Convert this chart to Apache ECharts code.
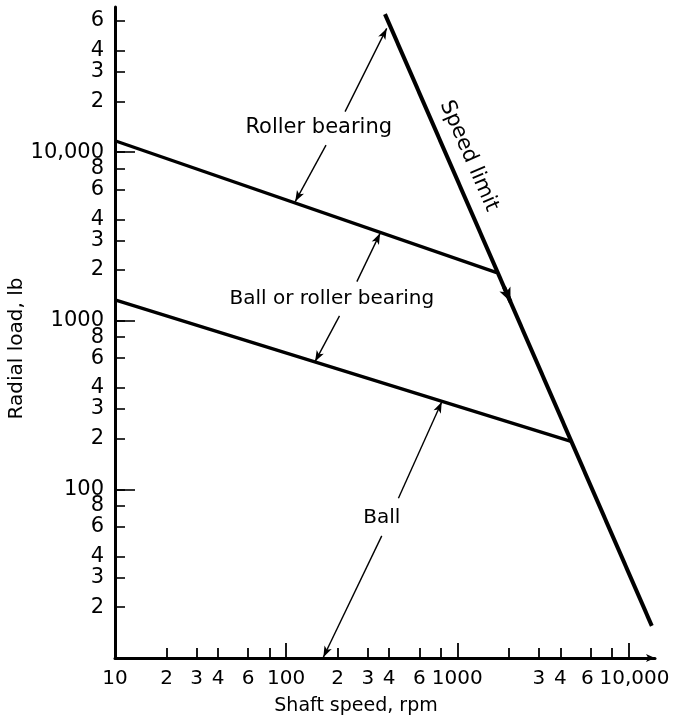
<!DOCTYPE html>
<html><head><meta charset="utf-8">
<script src="https://cdn.jsdelivr.net/npm/echarts@6/dist/echarts.min.js"></script>
<style>html,body{margin:0;padding:0;background:#fff}#c{width:683px;height:720px}</style>
</head><body><div id="c"></div>
<script>
// ---- axes (values in rpm / lb, log scale) ----
const xRange = [10, 14300];
const yRange = [10, 72600];
const xMajorTicks = [10, 100, 1000, 10000];
const xMinorTicks = [20, 30, 40, 60, 80, 200, 300, 400, 600, 800, 2000, 3000, 4000, 6000, 8000];
const xMinorLabelValues = [20, 30, 40, 60, 200, 300, 400, 600, 3000, 4000, 6000];
const yMajorTicks = [10, 100, 1000, 10000];
const yMinorTicks = [20, 30, 40, 60, 80, 200, 300, 400, 600, 800, 2000, 3000, 4000, 6000, 8000, 20000, 30000, 40000, 60000];
const yLabelValues = [20, 30, 40, 60, 80, 100, 200, 300, 400, 600, 800, 1000, 2000, 3000, 4000, 6000, 8000, 10000, 20000, 30000, 40000, 60000];
const xName = 'Shaft speed, rpm';
const yName = 'Radial load, lb';

// ---- boundary lines ----
const rollerRpm = [10, 1700];
const rollerLoad = [11700, 1930];
const ballRpm = [10, 4670];
const ballLoad = [1330, 192];
const speedRpm = [378, 13700];
const speedLoad = [65900, 15.5];

// ---- annotation arrows: [fromRpm, fromLoad, toRpm, toLoad] (head at "to") ----
const arrowSegments = [
  [221, 17400, 387, 54200],
  [171, 11000, 113, 5090],
  [259, 1706, 354, 3300],
  [205, 1069, 147.6, 573],
  [453, 88.7, 811, 330],
  [362, 53, 165, 10.1]
];
const speedArrow = [1875, 1589, 2047, 1295];

// ---- annotation texts ----
const noteTexts = ['Roller bearing', 'Ball or roller bearing', 'Ball', 'Speed limit'];
const noteRpm = [155, 185, 362, 1170];
const noteLoad = [13960, 1349, 67.9, 9500];
const noteRotate = [0, 0, 0, -66.5];
const noteSize = [21, 20, 20, 21];

const L = Math.log10;
const FONT = 'DejaVu Sans';
const pair = (xs, ys) => xs.map((x, i) => [L(x), L(ys[i])]);

function fmt(v) {
  const n = Math.round(Math.pow(10, v));
  if (n === 10000) return '10,000';
  const p = Math.floor(L(n) + 1e-9);
  const lead = Math.round(n / Math.pow(10, p));
  if (lead === 1) return String(n);
  return String(lead);
}
// x axis: nudge the crowded last pair apart
function fmtX(v) {
  const s = fmt(v);
  const n = Math.round(Math.pow(10, v));
  if (n === 10000) return '{r|' + s + '}';
  if (n === 6000) return '{l|' + s + '}';
  return s;
}

const chart = echarts.init(document.getElementById('c'), null, {renderer: 'canvas'});

const baseX = {
  type: 'value', min: L(xRange[0]), max: L(xRange[1]), position: 'bottom', offset: 0,
  splitLine: {show: false}
};
const baseY = {
  type: 'value', min: L(yRange[0]), max: L(yRange[1]), position: 'left', offset: 0,
  splitLine: {show: false}
};
const xLabelStyle = {show: true, margin: 11, color: '#000', fontFamily: FONT, fontSize: 20,
  showMaxLabel: true, showMinLabel: true, hideOverlap: false, formatter: fmtX,
  rich: {
    r: {fontFamily: FONT, fontSize: 20, color: '#000', padding: [0, 0, 0, 12]},
    l: {fontFamily: FONT, fontSize: 20, color: '#000', padding: [0, 6, 0, 0]}
  }};

const option = {
  animation: false,
  backgroundColor: '#fff',
  grid: {left: 115, right: 28, top: 7, bottom: 62, containLabel: false, outerBoundsMode: 'none'},
  xAxis: [
    Object.assign({}, baseX, {
      name: xName, nameLocation: 'middle', nameGap: 39, nameMoveOverlap: false,
      nameTextStyle: {fontFamily: FONT, fontSize: 19, color: '#000', padding: [0, 58, 0, 0]},
      axisLine: {show: true, lineStyle: {color: '#000', width: 3}, symbol: ['none', 'arrow'], symbolSize: [6, 9]},
      axisTick: {show: true, inside: true, length: 10, lineStyle: {color: '#000', width: 1.8},
        customValues: xMinorTicks.map(L)},
      axisLabel: Object.assign({}, xLabelStyle, {customValues: xMinorLabelValues.map(L)})
    }),
    Object.assign({}, baseX, {
      axisLine: {show: false},
      axisTick: {show: true, inside: true, length: 15, lineStyle: {color: '#000', width: 1.8},
        customValues: xMajorTicks.map(L)},
      axisLabel: Object.assign({}, xLabelStyle, {customValues: xMajorTicks.map(L)})
    })
  ],
  yAxis: [
    Object.assign({}, baseY, {
      name: yName, nameLocation: 'middle', nameGap: 88, nameMoveOverlap: false,
      nameTextStyle: {fontFamily: FONT, fontSize: 20, color: '#000', padding: [0, 32, 0, 0]},
      axisLine: {show: true, lineStyle: {color: '#000', width: 3}},
      axisTick: {show: true, inside: true, length: 10, lineStyle: {color: '#000', width: 1.6},
        customValues: yMinorTicks.concat(yMajorTicks).map(L)},
      axisLabel: {show: true, margin: 11, color: '#000', fontFamily: FONT, fontSize: 21,
        showMaxLabel: true, showMinLabel: true, hideOverlap: false,
        customValues: yLabelValues.map(L), formatter: fmt}
    }),
    Object.assign({}, baseY, {
      axisLine: {show: false},
      axisTick: {show: true, inside: true, length: 20, lineStyle: {color: '#000', width: 1.6},
        customValues: yMajorTicks.map(L)},
      axisLabel: {show: false}
    })
  ],
  series: [
    {
      name: 'Roller bearing limit', type: 'line', xAxisIndex: 0, yAxisIndex: 0,
      data: pair(rollerRpm, rollerLoad), showSymbol: false, symbol: 'none',
      lineStyle: {color: '#000', width: 3.2}, silent: true
    },
    {
      name: 'Ball bearing limit', type: 'line', xAxisIndex: 0, yAxisIndex: 0,
      data: pair(ballRpm, ballLoad), showSymbol: false, symbol: 'none',
      lineStyle: {color: '#000', width: 3.2}, silent: true
    },
    {
      name: 'Speed limit', type: 'line', xAxisIndex: 0, yAxisIndex: 0,
      data: pair(speedRpm, speedLoad), showSymbol: false, symbol: 'none',
      lineStyle: {color: '#000', width: 4}, silent: true,
      markLine: {
        silent: true, animation: false, precision: 6,
        symbolSize: [6, 11],
        label: {show: false},
        emphasis: {disabled: true},
        lineStyle: {color: '#000', width: 1.4, type: 'solid'},
        data: arrowSegments.map(s => [
          {coord: [L(s[0]), L(s[1])], symbol: 'none'},
          {coord: [L(s[2]), L(s[3])], symbol: 'arrow'}
        ]).concat([[
          {coord: [L(speedArrow[0]), L(speedArrow[1])], symbol: 'none', lineStyle: {width: 4, color: '#000'}},
          {coord: [L(speedArrow[2]), L(speedArrow[3])], symbol: 'arrow', symbolSize: [9, 14]}
        ]])
      },
      markPoint: {
        silent: true, animation: false,
        symbol: 'circle', symbolSize: 1,
        itemStyle: {color: 'rgba(0,0,0,0)'},
        emphasis: {disabled: true},
        label: {show: true, position: 'inside', formatter: '{b}', color: '#000', fontFamily: FONT, fontSize: 20},
        data: noteTexts.map((t, i) => ({
          name: t, coord: [L(noteRpm[i]), L(noteLoad[i])],
          label: {rotate: noteRotate[i], fontSize: noteSize[i]}
        }))
      }
    }
  ]
};
chart.setOption(option);
</script>
</body></html>
